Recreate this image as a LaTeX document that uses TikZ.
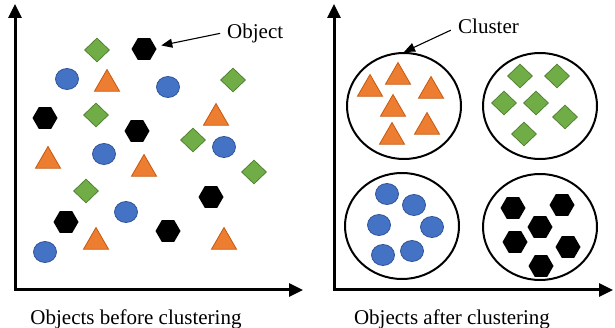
\documentclass[tikz,border=0pt]{standalone}
\usepackage{fontspec}
\setmainfont{Liberation Serif}
\usetikzlibrary{arrows.meta,shapes.geometric}
\definecolor{triorange}{HTML}{ED7D31}
\definecolor{triedge}{HTML}{C55A11}
\definecolor{diagreen}{HTML}{70AD47}
\definecolor{diaedge}{HTML}{548235}
\definecolor{dotblue}{HTML}{4472C4}
\definecolor{dotedge}{HTML}{2F5597}

\begin{document}
\begin{tikzpicture}[x=1pt, y=-1pt,
    axisline/.style={line width=3pt, {Triangle[length=14pt,width=13pt]}-{Triangle[length=14pt,width=13pt]}},
    pointer/.style={line width=1.1pt, -{Triangle[length=11pt,width=9pt]}},
    tri/.style={regular polygon, regular polygon sides=3, minimum size=29pt, inner sep=0pt, fill=triorange, draw=triedge, line width=0.8pt},
    hex/.style={regular polygon, regular polygon sides=6, minimum size=25pt, inner sep=0pt, fill=black},
    dia/.style={diamond, minimum width=25pt, minimum height=24pt, inner sep=0pt, fill=diagreen, draw=diaedge, line width=0.8pt},
    dot/.style={ellipse, minimum width=23pt, minimum height=21pt, inner sep=0pt, fill=dotblue, draw=dotedge, line width=0.8pt},
    group/.style={ellipse, draw, line width=2pt, minimum width=114pt, minimum height=106pt},
    lbl/.style={inner sep=0pt, font=\fontsize{21}{25}\selectfont}]
        \useasboundingbox (0,0) rectangle (615,328);
        % axis
        \coordinate (O1) at (15,290);
        \coordinate (y1) at (15,4);
        \coordinate (x1) at (303,290);
        \coordinate (O2) at (334,290);
        \coordinate (y2) at (334,4);
        \coordinate (x2) at (613,290);
        \path[draw, axisline] (y1) -- (O1) -- (x1);
        \path[draw, axisline] (y2) -- (O2) -- (x2);
        % objects before clustering
        \foreach \x/\y [count=\i] in {107/84, 216/118, 48/161, 144/169, 96/242, 224/242}
            \node[tri] (ta\i) at (\x,\y) {};
        \foreach \x/\y [count=\i] in {144/49, 45/118, 137/131, 211/197, 66/222, 168/231}
            \node[hex] (ha\i) at (\x,\y) {};
        \foreach \x/\y [count=\i] in {97/50, 233/80, 96/115, 193/140, 254/172, 86/191}
            \node[dia] (da\i) at (\x,\y) {};
        \foreach \x/\y [count=\i] in {67/79, 168/87, 104/154, 224/147, 126/212, 45/252}
            \node[dot] (ca\i) at (\x,\y) {};
        % clusters
        \node[group] (g1) at (404,106) {};
        \node[group] (g2) at (540,106) {};
        \node[group] (g3) at (402,226) {};
        \node[group] (g4) at (540,227) {};
        \foreach \x/\y [count=\i] in {370/89, 398/77, 431/91, 393/109, 427/127, 392/137}
            \node[tri] (tb\i) at (\x,\y) {};
        \foreach \x/\y [count=\i] in {520/76, 557/76, 504/103, 536/103, 565/117, 524/134}
            \node[dia] (db\i) at (\x,\y) {};
        \foreach \x/\y [count=\i] in {387/194, 414/205, 379/225, 432/227, 383/255, 412/251}
            \node[dot] (cb\i) at (\x,\y) {};
        \foreach \x/\y [count=\i] in {513/208, 562/205, 540/227, 515/242, 568/247, 541/266}
            \node[hex] (hb\i) at (\x,\y) {};
        % labels
        \node[lbl, anchor=base west] (objlbl) at (227,39) {Object};
        \node[lbl, anchor=base west] (clulbl) at (458,34) {Cluster};
        \path[draw, pointer, shorten <=7pt, shorten >=6pt] ([yshift=2pt]objlbl.west) -- (ha1);
        \path[draw, pointer, shorten <=8pt] (clulbl.west) -- (g1.north);
        \node[lbl, anchor=base] (before) at (136,324) {Objects before clustering};
        \node[lbl, anchor=base] (after) at (452,324) {Objects after clustering};
\end{tikzpicture}
\end{document}
